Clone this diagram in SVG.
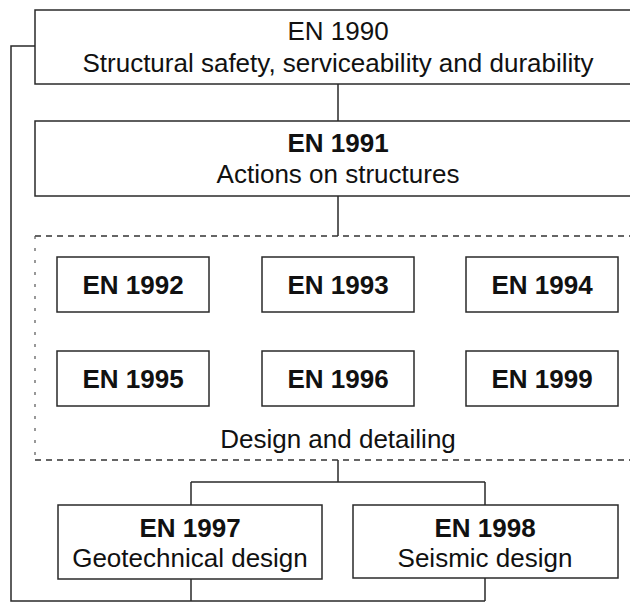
<svg xmlns="http://www.w3.org/2000/svg" width="630" height="603" viewBox="0 0 630 603">
<style>
.box{fill:#fff;stroke:#2a2a2a;stroke-width:1.5}
.ln{fill:none;stroke:#2a2a2a;stroke-width:1.5}
.dash{fill:none;stroke:#333;stroke-width:1.3;stroke-dasharray:6 5}
.dashside{fill:none;stroke:#555;stroke-width:1.2;stroke-dasharray:3 9}
text{font-family:"Liberation Sans",Arial,sans-serif;font-size:26px;fill:#111;text-anchor:middle}
.b{font-weight:bold}
</style>
<rect width="630" height="603" fill="#fff"/>
<g id="connectors">
<path class="ln" d="M35,46 H11 V601 H485 M191,579 V601 M485,578 V601"/>
<path class="ln" d="M338,84 V121 M338,196 V236 M338,460 V482 M191,482 H485 M191,482 V505 M485,482 V505"/>
<path class="dash" d="M35,236 H632 M35,460 H632"/>
<path class="dashside" d="M35,236 V460"/>
</g>
<g id="en1990"><rect class="box" x="35" y="10" width="610" height="74"/><text x="338" y="40">EN 1990</text><text x="338" y="72">Structural safety, serviceability and durability</text></g>
<g id="en1991"><rect class="box" x="35" y="121" width="610" height="75"/><text class="b" x="338" y="152">EN 1991</text><text x="338" y="183">Actions on structures</text></g>
<g id="en1992"><rect class="box" x="57" y="257" width="152" height="55"/><text class="b" x="133" y="294">EN 1992</text></g>
<g id="en1993"><rect class="box" x="262" y="257" width="152" height="55"/><text class="b" x="338" y="294">EN 1993</text></g>
<g id="en1994"><rect class="box" x="466" y="257" width="152" height="55"/><text class="b" x="542" y="294">EN 1994</text></g>
<g id="en1995"><rect class="box" x="57" y="351" width="152" height="55"/><text class="b" x="133" y="388">EN 1995</text></g>
<g id="en1996"><rect class="box" x="262" y="351" width="152" height="55"/><text class="b" x="338" y="388">EN 1996</text></g>
<g id="en1999"><rect class="box" x="466" y="351" width="152" height="55"/><text class="b" x="542" y="388">EN 1999</text></g>
<text x="338" y="448">Design and detailing</text>
<g id="en1997"><rect class="box" x="58" y="505" width="264" height="74"/><text class="b" x="190" y="537">EN 1997</text><text x="190" y="567">Geotechnical design</text></g>
<g id="en1998"><rect class="box" x="353" y="505" width="265" height="73"/><text class="b" x="485" y="537">EN 1998</text><text x="485" y="567">Seismic design</text></g>
</svg>
